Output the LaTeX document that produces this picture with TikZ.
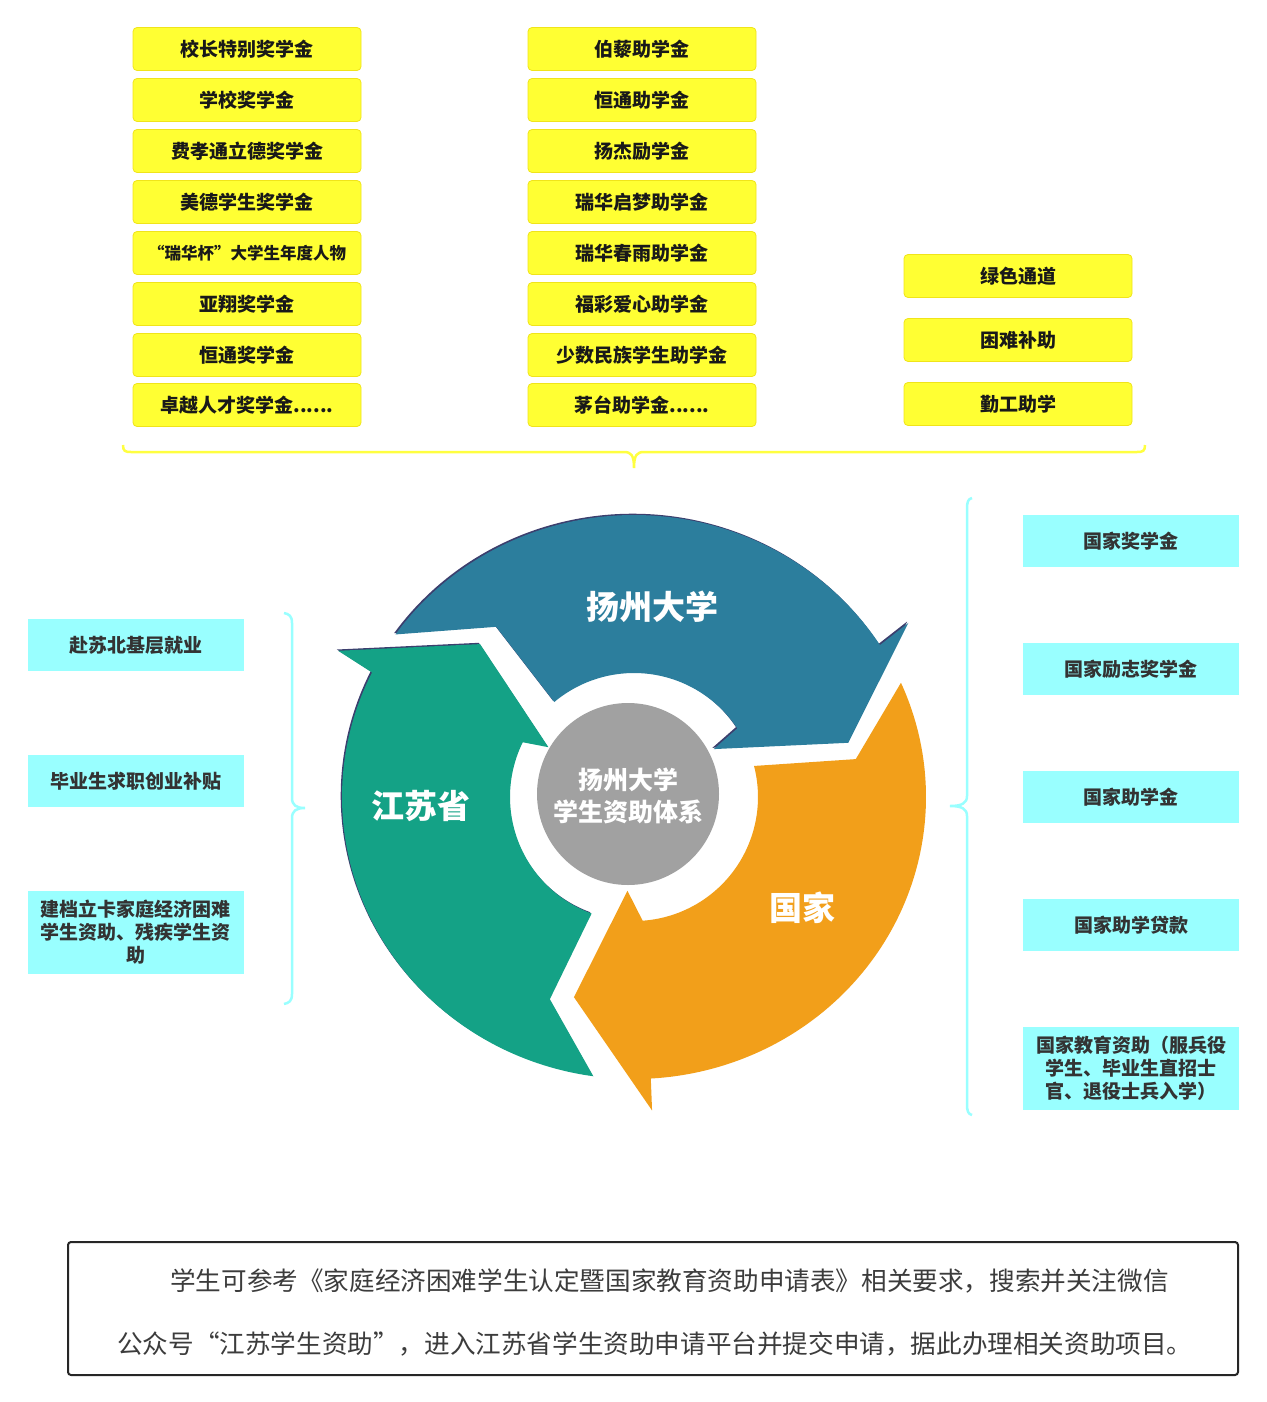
\documentclass[tikz,border=0pt]{standalone}
\usepackage{fontspec}
\setmainfont{Noto Sans CJK SC}
\definecolor{yfill}{HTML}{FFFF33}
\definecolor{ybord}{HTML}{F0E41A}
\definecolor{cfill}{HTML}{99FFFF}
\definecolor{bcyan}{HTML}{99FFFF}
\definecolor{byellow}{HTML}{FFFF40}
\definecolor{blueA}{HTML}{2C7E9D}
\definecolor{greenA}{HTML}{14A286}
\definecolor{orangeA}{HTML}{F29F1A}
\definecolor{grayC}{HTML}{A1A1A1}
\definecolor{tgray}{HTML}{333333}
\definecolor{ngray}{HTML}{3C3C3C}
\definecolor{edgeC}{HTML}{3C3F6E}
\newcommand\myBluePath{(-144.8:292 and 282) arc[start angle=-144.8, end angle=-32.6, x radius=292, y radius=282]
  -- (-32.4:325) -- (-14.2:221) -- (-31:93) -- (-33.6:124) arc[start angle=-33.6, end angle=-130, radius=124]
  -- (-129:219) -- cycle}
\newcommand\myGreenPath{(-262:292 and 282) arc[start angle=-262, end angle=-153.8, x radius=292, y radius=282]
  -- (-153.7:330) -- (-135.2:217) -- (-149.8:99) -- (-153.8:124) arc[start angle=-153.8, end angle=-250, radius=124]
  -- (-247.4:219) -- cycle}
\newcommand\myOrangePath{(-23.9:292 and 282) arc[start angle=-23.9, end angle=86.7, x radius=292, y radius=282]
  -- (86.7:314) -- (106.7:209) -- (94:94) -- (86:124) arc[start angle=86, end angle=-14.5, radius=124]
  -- (-9.7:225) -- cycle}
\begin{document}
\begin{tikzpicture}[x=1pt,y=-1pt,
  ybox/.style={draw=ybord, line width=0.8pt, fill=yfill, rounded corners=4pt, minimum width=228pt, minimum height=43pt, inner sep=0pt, font=\fontsize{19}{23}\selectfont\bfseries, text=black!90},
  cbox/.style={fill=cfill, minimum width=216pt, minimum height=52pt, inner sep=0pt, align=center, font=\fontsize{19}{23}\selectfont\bfseries, text=tgray},
  bracecy/.style={draw=bcyan, line width=2.5pt},
  braceyl/.style={draw=byellow, line width=2.5pt},
  bigw/.style={text=white, font=\fontsize{33}{36}\selectfont\bfseries, inner sep=0pt},
  notetext/.style={anchor=west, text=ngray, font=\fontsize{25.6}{30}\selectfont, inner sep=0pt},
  edgeshadow/.style={fill=edgeC, xshift=-1.3pt, yshift=1.3pt}
]
\useasboundingbox (0,0) rectangle (1266,1402);

% column 1
\node[ybox] (a1) at (247,49) {校长特别奖学金};
\node[ybox] (a2) at (247,100) {学校奖学金};
\node[ybox] (a3) at (247,151) {费孝通立德奖学金};
\node[ybox] (a4) at (247,202) {美德学生奖学金};
\node[ybox, font=\fontsize{16.5}{20}\selectfont\bfseries] (a5) at (247,253) {“瑞华杯”大学生年度人物};
\node[ybox] (a6) at (247,304) {亚翔奖学金};
\node[ybox] (a7) at (247,355) {恒通奖学金};
\node[ybox] (a8) at (247,405) {卓越人才奖学金......};
% column 2
\node[ybox] (b1) at (642,49) {伯藜助学金};
\node[ybox] (b2) at (642,100) {恒通助学金};
\node[ybox] (b3) at (642,151) {扬杰励学金};
\node[ybox] (b4) at (642,202) {瑞华启梦助学金};
\node[ybox] (b5) at (642,253) {瑞华春雨助学金};
\node[ybox] (b6) at (642,304) {福彩爱心助学金};
\node[ybox] (b7) at (642,355) {少数民族学生助学金};
\node[ybox] (b8) at (642,405) {茅台助学金......};
% column 3
\node[ybox] (c1) at (1018,276) {绿色通道};
\node[ybox] (c2) at (1018,340) {困难补助};
\node[ybox] (c3) at (1018,404) {勤工助学};

% top brace
\path[braceyl] (123,445) .. controls (123,451) and (125,452) .. (131,452) -- (624,452) .. controls (631,452) and (634,455) .. (634,468)
  .. controls (634,455) and (637,452) .. (644,452) -- (1137,452) .. controls (1143,452) and (1145,451) .. (1145,445);

% left boxes
\node[cbox] (l1) at (135.5,645) {赴苏北基层就业};
\node[cbox] (l2) at (135.5,781) {毕业生求职创业补贴};
\node[cbox, minimum height=83pt] (l3) at (135.5,932.5) {建档立卡家庭经济困难\\学生资助、残疾学生资\\助};
\path[bracecy] (284,613) .. controls (289,614) and (292,616) .. (292,623) -- (292,798) .. controls (292,805) and (296,808) .. (305,808)
  .. controls (296,808) and (292,811) .. (292,818) -- (292,994) .. controls (292,1001) and (289,1003) .. (284,1004);

% right boxes
\node[cbox] (r1) at (1131,541) {国家奖学金};
\node[cbox] (r2) at (1131,669) {国家励志奖学金};
\node[cbox] (r3) at (1131,797) {国家助学金};
\node[cbox] (r4) at (1131,925) {国家助学贷款};
\node[cbox, minimum height=83pt] (r5) at (1131,1068.5) {国家教育资助（服兵役\\学生、毕业生直招士\\官、退役士兵入学）};
\path[bracecy] (972,498) .. controls (968,499) and (967,502) .. (967,509) -- (967,796) .. controls (967,803) and (962,806) .. (950,806)
  .. controls (962,806) and (967,809) .. (967,816) -- (967,1104) .. controls (967,1111) and (968,1114) .. (972,1115);

% cycle
\begin{scope}[shift={(634,797)}]
\fill[edgeshadow] \myBluePath;
\fill[blueA] \myBluePath;
\fill[edgeshadow] \myGreenPath;
\fill[greenA] \myGreenPath;
\fill[orangeA] \myOrangePath;
\end{scope}
\node[circle, fill=grayC, minimum size=182pt, inner sep=0pt] (hub) at (628,794) {};
\node[text=white, align=center, font=\fontsize{25}{32}\selectfont\bfseries, inner sep=0pt] (hubtext) at (628,796) {扬州大学\\学生资助体系};
\node[bigw] (yz) at (652,607) {扬州大学};
\node[bigw] (js) at (421,806) {江苏省};
\node[bigw] (gj) at (802,908) {国家};

% note
\node[draw=black!85, line width=2pt, rounded corners=3pt, minimum width=1170pt, minimum height=133pt, inner sep=0pt] (note) at (653,1308.5) {};
\node[notetext] (n1) at (170,1281) {学生可参考《家庭经济困难学生认定暨国家教育资助申请表》相关要求，搜索并关注微信};
\node[notetext] (n2) at (117,1344) {公众号“江苏学生资助”，进入江苏省学生资助申请平台并提交申请，据此办理相关资助项目。};
\end{tikzpicture}
\end{document}
